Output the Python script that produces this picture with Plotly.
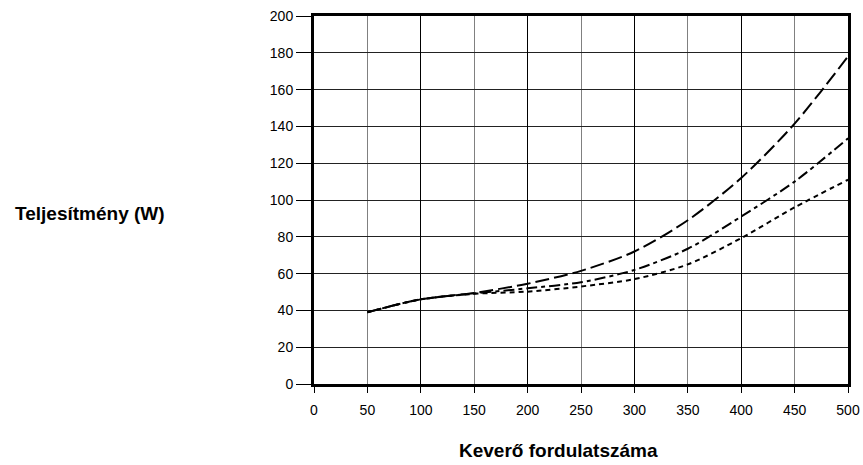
import plotly.graph_objects as go

# Data
speed = [50, 100, 150, 200, 250, 300, 350, 400, 450, 500]
power_long = [39, 46, 49.5, 54.5, 61.5, 72, 89, 112, 141.5, 178]
power_dashdot = [39, 46, 49.2, 52, 55.3, 62, 73.5, 91, 110, 133.5]
power_short = [39, 46, 49, 50.2, 53, 57, 65, 79.3, 96, 111]

x_ticks = [0, 50, 100, 150, 200, 250, 300, 350, 400, 450, 500]
x_major = [0, 100, 200, 300, 400, 500]
y_ticks = [0, 20, 40, 60, 80, 100, 120, 140, 160, 180, 200]

FONT = "Liberation Sans, Arial, sans-serif"

fig = go.Figure()
series = [
    (power_long, "14px,5px"),
    (power_dashdot, "11px,4px,4px,4px"),
    (power_short, "5px,4px"),
]
for vals, dash in series:
    fig.add_trace(go.Scatter(
        x=speed, y=vals, mode="lines",
        line=dict(color="black", width=2, dash=dash, shape="spline", smoothing=0.8),
        showlegend=False, hoverinfo="skip",
    ))

# invisible trace to activate the overlay axis (black gridlines at every 100)
fig.add_trace(go.Scatter(x=[0, 500], y=[0, 200], xaxis="x2", mode="lines",
                         line=dict(width=0), showlegend=False, hoverinfo="skip"))

fig.update_layout(
    width=863, height=465, autosize=False,
    margin=dict(l=314, r=15, t=16, b=81, autoexpand=False),
    paper_bgcolor="white", plot_bgcolor="white",
    font=dict(family=FONT, color="black", size=14),
    xaxis=dict(
        range=[0, 500], tickmode="array", tickvals=x_ticks,
        showgrid=True, gridcolor="#808080", gridwidth=1,
        showline=True, linecolor="black", linewidth=3, mirror=True,
        ticks="outside", ticklen=6, tickwidth=1, tickcolor="black",
        ticklabelstandoff=5, ticklabeloverflow="allow", zeroline=False,
        automargin=False,
        tickfont=dict(size=14, family=FONT, color="black"),
    ),
    xaxis2=dict(
        range=[0, 500], overlaying="x", tickmode="array", tickvals=x_major,
        showgrid=True, gridcolor="black", gridwidth=1,
        showticklabels=False, ticks="", showline=False, zeroline=False,
        automargin=False,
    ),
    yaxis=dict(
        range=[0, 200], tickmode="array", tickvals=y_ticks,
        showgrid=True, gridcolor="#222222", gridwidth=1,
        showline=True, linecolor="black", linewidth=3, mirror=True,
        ticks="outside", ticklen=15, tickwidth=1, tickcolor="black",
        zeroline=False, automargin=False,
        tickfont=dict(size=14, family=FONT, color="black"),
    ),
    annotations=[
        dict(text="<b>Teljesítmény (W)</b>", xref="paper", yref="paper",
             x=-0.4204, y=0.462, xanchor="center", yanchor="middle",
             showarrow=False, font=dict(size=19, family=FONT, color="black")),
        dict(text="<b>Keverő fordulatszáma</b>", xref="paper", yref="paper",
             x=0.4588, y=-0.182, xanchor="center", yanchor="middle",
             showarrow=False, font=dict(size=19, family=FONT, color="black")),
    ],
)

fig.write_html("out.html", config={"displayModeBar": False},
               post_script="document.body.style.margin='0';")
